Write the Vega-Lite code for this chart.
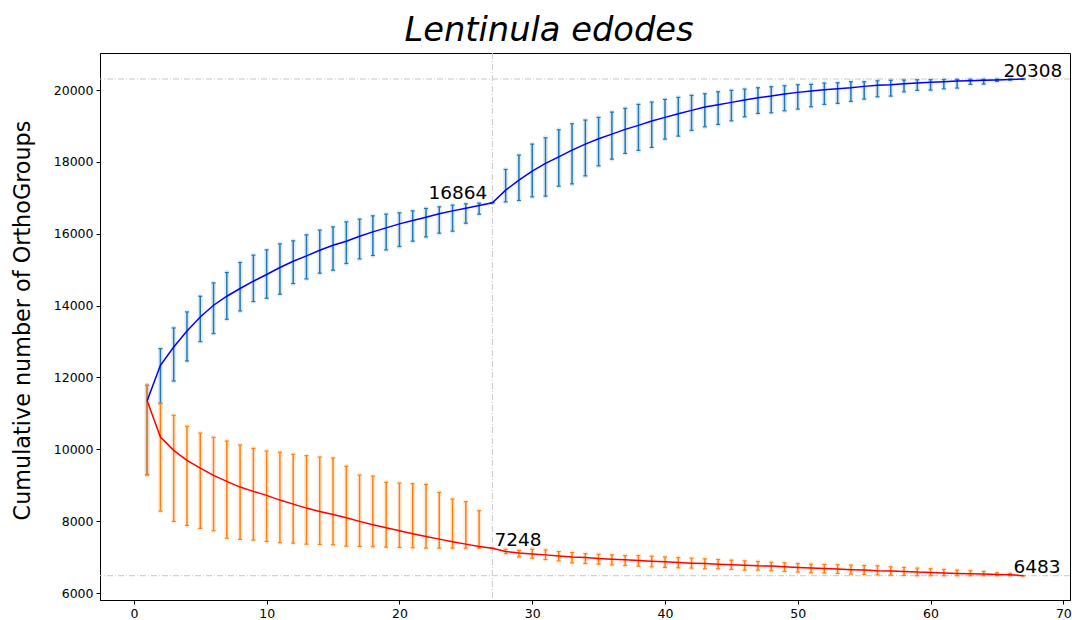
{
  "$schema": "https://vega.github.io/schema/vega-lite/v6.json",
  "width": 970,
  "height": 547,
  "autosize": {"type": "none"},
  "padding": {"left": 100, "top": 53, "right": 2, "bottom": 20},
  "config": {
    "view": {"stroke": "#000", "strokeWidth": 1},
    "font": "DejaVu Sans",
    "axis": {"grid": false, "domainColor": "#000", "tickColor": "#000", "labelColor": "#000", "titleColor": "#000", "labelFontSize": 12.5, "tickSize": 4, "labelPadding": 3, "labelFont": "DejaVu Sans", "titleFont": "DejaVu Sans"}
  },
  "title": {"text": "Lentinula edodes", "font": "DejaVu Sans", "fontSize": 33.7, "fontStyle": "italic", "fontWeight": "normal", "color": "#000", "anchor": "middle", "dx": -36, "offset": 5},
  "datasets": {
    "curves": [
      {"n":1,"s":"pan","m":11350,"lo":9295,"hi":11783},
      {"n":2,"s":"pan","m":12340,"lo":11282,"hi":12805},
      {"n":3,"s":"pan","m":12850,"lo":11903,"hi":13379},
      {"n":4,"s":"pan","m":13295,"lo":12460,"hi":13825},
      {"n":5,"s":"pan","m":13685,"lo":13000,"hi":14262},
      {"n":6,"s":"pan","m":14011,"lo":13223,"hi":14633},
      {"n":7,"s":"pan","m":14262,"lo":13621,"hi":14922},
      {"n":8,"s":"pan","m":14477,"lo":13853,"hi":15201},
      {"n":9,"s":"pan","m":14680,"lo":14115,"hi":15404},
      {"n":10,"s":"pan","m":14867,"lo":14206,"hi":15552},
      {"n":11,"s":"pan","m":15062,"lo":14318,"hi":15719},
      {"n":12,"s":"pan","m":15237,"lo":14616,"hi":15803},
      {"n":13,"s":"pan","m":15385,"lo":14744,"hi":15970},
      {"n":14,"s":"pan","m":15543,"lo":14903,"hi":16101},
      {"n":15,"s":"pan","m":15683,"lo":14986,"hi":16192},
      {"n":16,"s":"pan","m":15794,"lo":15173,"hi":16332},
      {"n":17,"s":"pan","m":15933,"lo":15301,"hi":16407},
      {"n":18,"s":"pan","m":16053,"lo":15396,"hi":16499},
      {"n":19,"s":"pan","m":16165,"lo":15552,"hi":16546},
      {"n":20,"s":"pan","m":16276,"lo":15646,"hi":16583},
      {"n":21,"s":"pan","m":16371,"lo":15794,"hi":16638},
      {"n":22,"s":"pan","m":16463,"lo":15914,"hi":16705},
      {"n":23,"s":"pan","m":16555,"lo":16017,"hi":16750},
      {"n":24,"s":"pan","m":16638,"lo":16073,"hi":16797},
      {"n":25,"s":"pan","m":16713,"lo":16296,"hi":16833},
      {"n":26,"s":"pan","m":16789,"lo":16546,"hi":16853},
      {"n":27,"s":"pan","m":16864,"lo":16864,"hi":16864},
      {"n":28,"s":"pan","m":17215,"lo":16889,"hi":17791},
      {"n":29,"s":"pan","m":17493,"lo":16928,"hi":18190},
      {"n":30,"s":"pan","m":17744,"lo":17028,"hi":18496},
      {"n":31,"s":"pan","m":17959,"lo":17048,"hi":18672},
      {"n":32,"s":"pan","m":18142,"lo":17326,"hi":18894},
      {"n":33,"s":"pan","m":18329,"lo":17390,"hi":19062},
      {"n":34,"s":"pan","m":18496,"lo":17613,"hi":19165},
      {"n":35,"s":"pan","m":18644,"lo":17892,"hi":19240},
      {"n":36,"s":"pan","m":18775,"lo":18078,"hi":19388},
      {"n":37,"s":"pan","m":18906,"lo":18237,"hi":19491},
      {"n":38,"s":"pan","m":19017,"lo":18321,"hi":19602},
      {"n":39,"s":"pan","m":19137,"lo":18404,"hi":19666},
      {"n":40,"s":"pan","m":19240,"lo":18636,"hi":19741},
      {"n":41,"s":"pan","m":19340,"lo":18719,"hi":19797},
      {"n":42,"s":"pan","m":19435,"lo":18878,"hi":19853},
      {"n":43,"s":"pan","m":19527,"lo":18978,"hi":19897},
      {"n":44,"s":"pan","m":19591,"lo":19045,"hi":19953},
      {"n":45,"s":"pan","m":19658,"lo":19145,"hi":19992},
      {"n":46,"s":"pan","m":19722,"lo":19257,"hi":20028},
      {"n":47,"s":"pan","m":19786,"lo":19351,"hi":20065},
      {"n":48,"s":"pan","m":19833,"lo":19368,"hi":20092},
      {"n":49,"s":"pan","m":19889,"lo":19424,"hi":20120},
      {"n":50,"s":"pan","m":19936,"lo":19471,"hi":20148},
      {"n":51,"s":"pan","m":19972,"lo":19535,"hi":20159},
      {"n":52,"s":"pan","m":20009,"lo":19602,"hi":20195},
      {"n":53,"s":"pan","m":20037,"lo":19630,"hi":20204},
      {"n":54,"s":"pan","m":20065,"lo":19686,"hi":20232},
      {"n":55,"s":"pan","m":20103,"lo":19750,"hi":20232},
      {"n":56,"s":"pan","m":20131,"lo":19814,"hi":20259},
      {"n":57,"s":"pan","m":20148,"lo":19833,"hi":20271},
      {"n":58,"s":"pan","m":20176,"lo":19953,"hi":20279},
      {"n":59,"s":"pan","m":20195,"lo":19992,"hi":20287},
      {"n":60,"s":"pan","m":20215,"lo":20000,"hi":20290},
      {"n":61,"s":"pan","m":20232,"lo":20037,"hi":20293},
      {"n":62,"s":"pan","m":20251,"lo":20056,"hi":20296},
      {"n":63,"s":"pan","m":20262,"lo":20159,"hi":20300},
      {"n":64,"s":"pan","m":20273,"lo":20168,"hi":20302},
      {"n":65,"s":"pan","m":20282,"lo":20243,"hi":20305},
      {"n":66,"s":"pan","m":20296,"lo":20279,"hi":20307},
      {"n":67,"s":"pan","m":20308,"lo":20308,"hi":20308},
      {"n":1,"s":"core","m":11350,"lo":9295,"hi":11783},
      {"n":2,"s":"core","m":10343,"lo":8281,"hi":11273},
      {"n":3,"s":"core","m":9972,"lo":7995,"hi":10947},
      {"n":4,"s":"core","m":9694,"lo":7883,"hi":10641},
      {"n":5,"s":"core","m":9479,"lo":7800,"hi":10454},
      {"n":6,"s":"core","m":9276,"lo":7735,"hi":10334},
      {"n":7,"s":"core","m":9109,"lo":7529,"hi":10231},
      {"n":8,"s":"core","m":8950,"lo":7493,"hi":10120},
      {"n":9,"s":"core","m":8830,"lo":7474,"hi":10028},
      {"n":10,"s":"core","m":8719,"lo":7437,"hi":9953},
      {"n":11,"s":"core","m":8588,"lo":7401,"hi":9917},
      {"n":12,"s":"core","m":8476,"lo":7390,"hi":9861},
      {"n":13,"s":"core","m":8365,"lo":7362,"hi":9825},
      {"n":14,"s":"core","m":8273,"lo":7354,"hi":9786},
      {"n":15,"s":"core","m":8189,"lo":7345,"hi":9758},
      {"n":16,"s":"core","m":8098,"lo":7306,"hi":9527},
      {"n":17,"s":"core","m":7995,"lo":7298,"hi":9284},
      {"n":18,"s":"core","m":7903,"lo":7290,"hi":9256},
      {"n":19,"s":"core","m":7819,"lo":7279,"hi":9081},
      {"n":20,"s":"core","m":7735,"lo":7270,"hi":9061},
      {"n":21,"s":"core","m":7652,"lo":7262,"hi":9045},
      {"n":22,"s":"core","m":7577,"lo":7251,"hi":9025},
      {"n":23,"s":"core","m":7501,"lo":7250,"hi":8802},
      {"n":24,"s":"core","m":7429,"lo":7250,"hi":8616},
      {"n":25,"s":"core","m":7362,"lo":7250,"hi":8543},
      {"n":26,"s":"core","m":7298,"lo":7250,"hi":8293},
      {"n":27,"s":"core","m":7248,"lo":7248,"hi":7248},
      {"n":28,"s":"core","m":7155,"lo":7099,"hi":7219},
      {"n":29,"s":"core","m":7118,"lo":7007,"hi":7191},
      {"n":30,"s":"core","m":7090,"lo":6971,"hi":7219},
      {"n":31,"s":"core","m":7063,"lo":6934,"hi":7201},
      {"n":32,"s":"core","m":7035,"lo":6897,"hi":7155},
      {"n":33,"s":"core","m":7007,"lo":6842,"hi":7127},
      {"n":34,"s":"core","m":6989,"lo":6823,"hi":7099},
      {"n":35,"s":"core","m":6961,"lo":6805,"hi":7081},
      {"n":36,"s":"core","m":6943,"lo":6787,"hi":7063},
      {"n":37,"s":"core","m":6925,"lo":6768,"hi":7044},
      {"n":38,"s":"core","m":6906,"lo":6750,"hi":7044},
      {"n":39,"s":"core","m":6888,"lo":6731,"hi":7026},
      {"n":40,"s":"core","m":6869,"lo":6713,"hi":7007},
      {"n":41,"s":"core","m":6851,"lo":6704,"hi":6989},
      {"n":42,"s":"core","m":6833,"lo":6695,"hi":6971},
      {"n":43,"s":"core","m":6823,"lo":6676,"hi":6952},
      {"n":44,"s":"core","m":6805,"lo":6676,"hi":6934},
      {"n":45,"s":"core","m":6787,"lo":6658,"hi":6915},
      {"n":46,"s":"core","m":6777,"lo":6639,"hi":6897},
      {"n":47,"s":"core","m":6759,"lo":6639,"hi":6879},
      {"n":48,"s":"core","m":6750,"lo":6621,"hi":6860},
      {"n":49,"s":"core","m":6731,"lo":6603,"hi":6842},
      {"n":50,"s":"core","m":6713,"lo":6584,"hi":6823},
      {"n":51,"s":"core","m":6695,"lo":6566,"hi":6805},
      {"n":52,"s":"core","m":6685,"lo":6557,"hi":6796},
      {"n":53,"s":"core","m":6667,"lo":6547,"hi":6787},
      {"n":54,"s":"core","m":6649,"lo":6529,"hi":6777},
      {"n":55,"s":"core","m":6639,"lo":6520,"hi":6768},
      {"n":56,"s":"core","m":6621,"lo":6511,"hi":6759},
      {"n":57,"s":"core","m":6612,"lo":6501,"hi":6731},
      {"n":58,"s":"core","m":6603,"lo":6492,"hi":6713},
      {"n":59,"s":"core","m":6584,"lo":6483,"hi":6695},
      {"n":60,"s":"core","m":6575,"lo":6483,"hi":6676},
      {"n":61,"s":"core","m":6557,"lo":6483,"hi":6658},
      {"n":62,"s":"core","m":6547,"lo":6483,"hi":6639},
      {"n":63,"s":"core","m":6538,"lo":6483,"hi":6621},
      {"n":64,"s":"core","m":6529,"lo":6483,"hi":6603},
      {"n":65,"s":"core","m":6520,"lo":6483,"hi":6566},
      {"n":66,"s":"core","m":6511,"lo":6483,"hi":6547},
      {"n":67,"s":"core","m":6483,"lo":6483,"hi":6483}
    ]
  },
  "layer": [
    {
      "data": {"values": [{"v": 20308}, {"v": 6483}]},
      "mark": {"type": "rule", "color": "#c8c8c8", "strokeWidth": 1, "strokeDash": [6, 2, 1, 2]},
      "encoding": {
        "y": {"field": "v", "type": "quantitative", "scale": {"domain": [5807, 21032], "nice": false, "zero": false},
              "axis": {"values": [6000, 8000, 10000, 12000, 14000, 16000, 18000, 20000], "format": "d", "title": "Cumulative number of OrthoGroups", "titleFontSize": 22.3, "titleFontWeight": "normal", "titlePadding": 19, "titleY": 267}}
      }
    },
    {
      "data": {"values": [{"n": 27}]},
      "mark": {"type": "rule", "color": "#c8c8c8", "strokeWidth": 1, "strokeDash": [6, 2, 1, 2]},
      "encoding": {
        "x": {"field": "n", "type": "quantitative", "scale": {"domain": [-2.55, 70.5], "nice": false, "zero": false},
              "axis": {"values": [0, 10, 20, 30, 40, 50, 60, 70], "format": "d", "title": null, "labelFlush": false}}
      }
    },
    {
      "data": {"name": "curves"},
      "transform": [{"filter": "datum.s === 'pan'"}],
      "mark": {"type": "rule", "color": "#1f77b4", "strokeWidth": 5, "opacity": 0.15, "strokeCap": "round"},
      "encoding": {
        "x": {"field": "n", "type": "quantitative"},
        "y": {"field": "lo", "type": "quantitative"},
        "y2": {"field": "hi"}
      }
    },
    {
      "data": {"name": "curves"},
      "transform": [{"filter": "datum.s === 'pan'"}],
      "mark": {"type": "rule", "color": "#1f77b4", "strokeWidth": 1.5},
      "encoding": {
        "x": {"field": "n", "type": "quantitative"},
        "y": {"field": "lo", "type": "quantitative"},
        "y2": {"field": "hi"}
      }
    },
    {
      "data": {"name": "curves"},
      "transform": [{"filter": "datum.s === 'pan'"}],
      "mark": {"type": "tick", "orient": "horizontal", "color": "#1f77b4", "size": 4, "thickness": 1.2, "opacity": 1},
      "encoding": {
        "x": {"field": "n", "type": "quantitative"},
        "y": {"field": "lo", "type": "quantitative"}
      }
    },
    {
      "data": {"name": "curves"},
      "transform": [{"filter": "datum.s === 'pan'"}],
      "mark": {"type": "tick", "orient": "horizontal", "color": "#1f77b4", "size": 4, "thickness": 1.2, "opacity": 1},
      "encoding": {
        "x": {"field": "n", "type": "quantitative"},
        "y": {"field": "hi", "type": "quantitative"}
      }
    },
    {
      "data": {"name": "curves"},
      "transform": [{"filter": "datum.s === 'core'"}],
      "mark": {"type": "rule", "color": "#ff7f0e", "strokeWidth": 5, "opacity": 0.15, "strokeCap": "round"},
      "encoding": {
        "x": {"field": "n", "type": "quantitative"},
        "y": {"field": "lo", "type": "quantitative"},
        "y2": {"field": "hi"}
      }
    },
    {
      "data": {"name": "curves"},
      "transform": [{"filter": "datum.s === 'core'"}],
      "mark": {"type": "rule", "color": "#ff7f0e", "strokeWidth": 1.5},
      "encoding": {
        "x": {"field": "n", "type": "quantitative"},
        "y": {"field": "lo", "type": "quantitative"},
        "y2": {"field": "hi"}
      }
    },
    {
      "data": {"name": "curves"},
      "transform": [{"filter": "datum.s === 'core'"}],
      "mark": {"type": "tick", "orient": "horizontal", "color": "#ff7f0e", "size": 4, "thickness": 1.2, "opacity": 1},
      "encoding": {
        "x": {"field": "n", "type": "quantitative"},
        "y": {"field": "lo", "type": "quantitative"}
      }
    },
    {
      "data": {"name": "curves"},
      "transform": [{"filter": "datum.s === 'core'"}],
      "mark": {"type": "tick", "orient": "horizontal", "color": "#ff7f0e", "size": 4, "thickness": 1.2, "opacity": 1},
      "encoding": {
        "x": {"field": "n", "type": "quantitative"},
        "y": {"field": "hi", "type": "quantitative"}
      }
    },
    {
      "data": {"name": "curves"},
      "transform": [{"filter": "datum.s === 'pan'"}],
      "mark": {"type": "line", "color": "#0000ff", "strokeWidth": 1.5},
      "encoding": {
        "x": {"field": "n", "type": "quantitative"},
        "y": {"field": "m", "type": "quantitative"}
      }
    },
    {
      "data": {"name": "curves"},
      "transform": [{"filter": "datum.s === 'core'"}],
      "mark": {"type": "line", "color": "#ff0000", "strokeWidth": 1.5},
      "encoding": {
        "x": {"field": "n", "type": "quantitative"},
        "y": {"field": "m", "type": "quantitative"}
      }
    },
    {
      "data": {"values": [{"n": 27, "v": 16864, "t": "16864"}]},
      "mark": {"type": "text", "align": "right", "baseline": "alphabetic", "dx": -5, "dy": -4, "fontSize": 18.5, "color": "#000"},
      "encoding": {
        "x": {"field": "n", "type": "quantitative"},
        "y": {"field": "v", "type": "quantitative"},
        "text": {"field": "t"}
      }
    },
    {
      "data": {"values": [{"n": 67, "v": 20308, "t": "20308"}]},
      "mark": {"type": "text", "align": "left", "baseline": "alphabetic", "dx": -20, "dy": -2, "fontSize": 18.5, "color": "#000"},
      "encoding": {
        "x": {"field": "n", "type": "quantitative"},
        "y": {"field": "v", "type": "quantitative"},
        "text": {"field": "t"}
      }
    },
    {
      "data": {"values": [{"n": 27, "v": 7248, "t": "7248"}]},
      "mark": {"type": "text", "align": "left", "baseline": "alphabetic", "dx": 2, "dy": -2, "fontSize": 18.5, "color": "#000"},
      "encoding": {
        "x": {"field": "n", "type": "quantitative"},
        "y": {"field": "v", "type": "quantitative"},
        "text": {"field": "t"}
      }
    },
    {
      "data": {"values": [{"n": 67, "v": 6483, "t": "6483"}]},
      "mark": {"type": "text", "align": "left", "baseline": "alphabetic", "dx": -10, "dy": -3, "fontSize": 18.5, "color": "#000"},
      "encoding": {
        "x": {"field": "n", "type": "quantitative"},
        "y": {"field": "v", "type": "quantitative"},
        "text": {"field": "t"}
      }
    }
  ]
}
